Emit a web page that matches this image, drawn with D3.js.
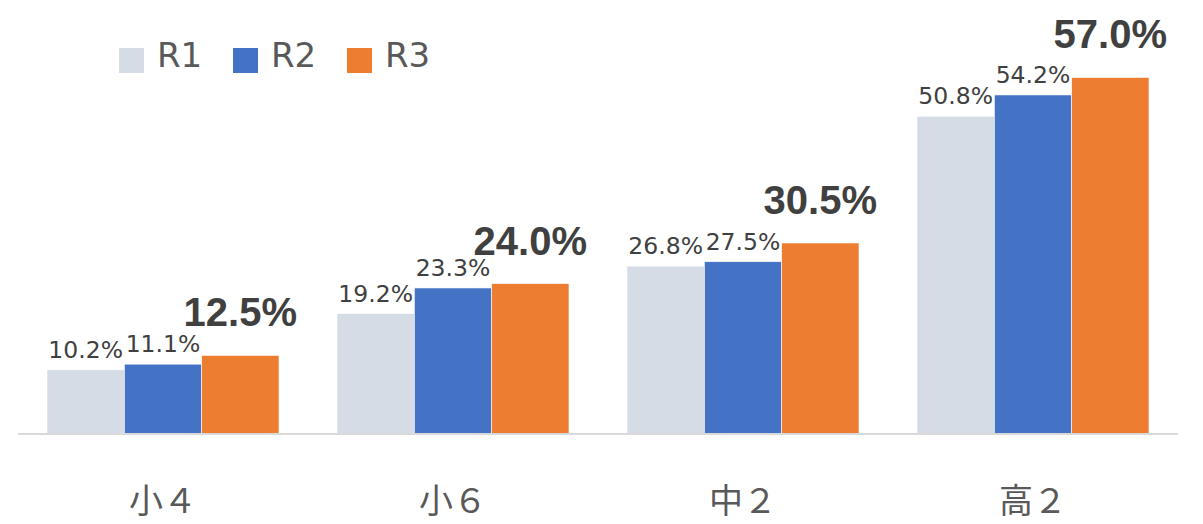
<!DOCTYPE html>
<html>
<head>
<meta charset="utf-8">
<script src="https://cdn.jsdelivr.net/npm/d3@7"></script>
<style>
  html, body { margin: 0; padding: 0; background: #fff; }
  svg { display: block; }
</style>
</head>
<body>
<svg id="chart" width="1203" height="524"></svg>
<script>
const categories = ["小４", "小６", "中２", "高２"];
const seriesNames = ["R1", "R2", "R3"];
const r1Values = [10.2, 19.2, 26.8, 50.8];
const r2Values = [11.1, 23.3, 27.5, 54.2];
const r3Values = [12.5, 24.0, 30.5, 57.0];
const seriesColors = ["#d6dce5", "#4472c4", "#ed7d31"];

const seriesValues = [r1Values, r2Values, r3Values];
const svg = d3.select("#chart");

const x0 = d3.scaleBand().domain(categories).range([18, 1178]).paddingInner(0.2).paddingOuter(0.1);
const x1 = d3.scaleBand().domain(seriesNames).range([0, x0.bandwidth()]).padding(0);
const y = d3.scaleLinear().domain([0, 69.4]).range([433.5, 0]);

const rows = [];
categories.forEach((c, i) => {
  seriesNames.forEach((s, j) => rows.push({ cat: c, ser: s, si: j, v: seriesValues[j][i] }));
});

// bars
svg.append("g").selectAll("rect").data(rows).join("rect")
  .attr("x", d => x0(d.cat) + x1(d.ser))
  .attr("y", d => y(d.v))
  .attr("width", x1.bandwidth())
  .attr("height", d => y(0) - y(d.v))
  .attr("fill", d => seriesColors[d.si])
  .attr("stroke", "#ffffff")
  .attr("stroke-width", 0.6);

// axis line and category labels
const xAxis = d3.axisBottom(x0).tickSize(0).tickPadding(0);
const ax = svg.append("g").attr("transform", `translate(0,${y(0)})`).call(xAxis);
ax.select(".domain").attr("stroke", "#d9d9d9").attr("stroke-width", 2).attr("d", "M18,0.5H1178");
ax.selectAll(".tick text")
  .attr("y", 79)
  .attr("dy", 0)
  .attr("font-family", "'Noto Sans CJK JP', sans-serif")
  .attr("font-size", 34)
  .attr("fill", "#595959");

// data labels
svg.append("g").selectAll("text").data(rows).join("text")
  .attr("x", d => x0(d.cat) + x1(d.ser) + x1.bandwidth() / 2)
  .attr("y", d => y(d.v) - (d.si === 2 ? 29 : 12))
  .attr("text-anchor", "middle")
  .attr("font-family", d => d.si === 2 ? "'Liberation Sans', Arial, sans-serif" : "'DejaVu Sans', Verdana, sans-serif")
  .attr("font-weight", d => d.si === 2 ? "bold" : "normal")
  .attr("font-size", d => d.si === 2 ? 40 : 23.5)
  .attr("fill", "#404040")
  .text(d => d.v.toFixed(1) + "%");

// legend
const legendX = [119, 233, 347];
const lg = svg.append("g").selectAll("g").data(seriesNames).join("g")
  .attr("transform", (d, i) => `translate(${legendX[i]},48)`);
lg.append("rect").attr("width", 25).attr("height", 25).attr("fill", (d, i) => seriesColors[i]);
lg.append("text").attr("x", 38).attr("y", 19)
  .attr("font-family", "'DejaVu Sans', Verdana, sans-serif")
  .attr("font-size", 34)
  .attr("fill", "#595959")
  .text(d => d);
</script>
</body>
</html>
